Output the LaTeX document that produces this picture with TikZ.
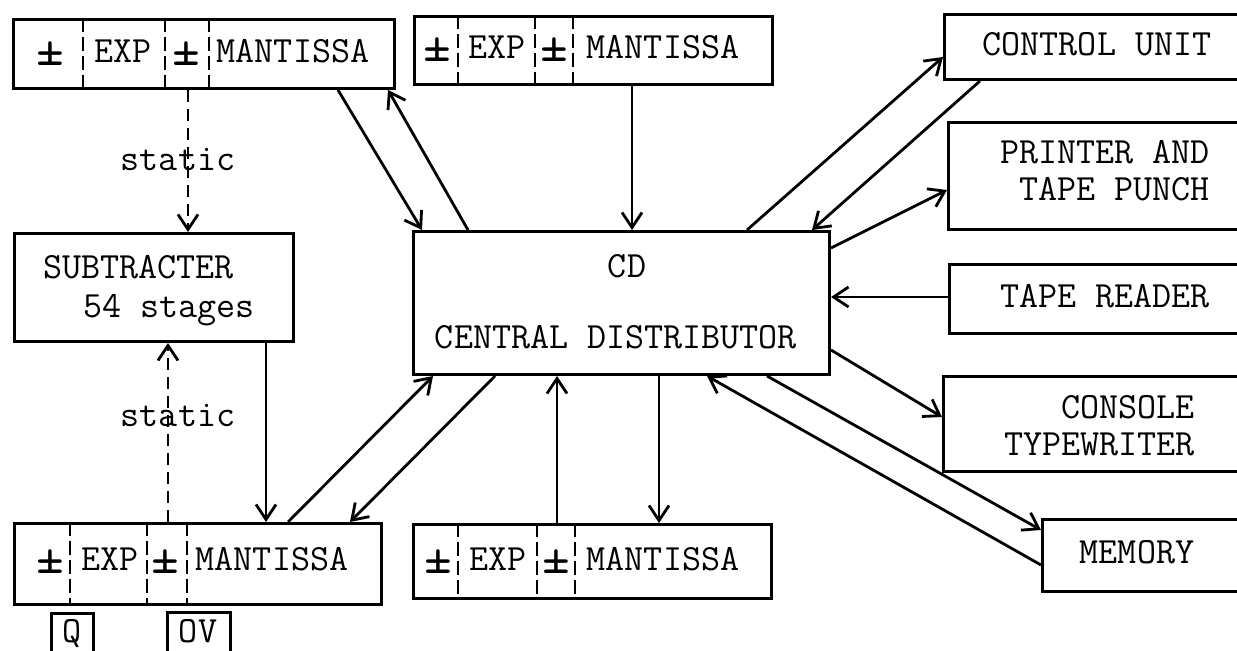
\documentclass[tikz,border=0pt]{standalone}
\usepackage{fontspec}
\usetikzlibrary{arrows.meta,calc}
\newcommand\tyfont{\fontsize{18.5}{22}\selectfont\ttfamily\addfontfeatures{FakeBold=2.2}}
\newcommand\pmsign{{\fontsize{27}{27}\selectfont ±}}
\begin{document}
\begin{tikzpicture}[x=0.5pt,y=-0.5pt,
  box/.style={draw,line width=1.5pt,inner sep=0pt,anchor=north west},
  lbl/.style={font=\tyfont,inner sep=0pt,text height=11pt,text depth=0pt},
  pmlbl/.style={font=\tyfont,inner sep=0pt},
  conn/.style={line width=1.4pt,-{Straight Barb[length=7.5pt,width=10pt]}},
  divider/.style={line width=1.1pt,dash pattern=on 7pt off 2.5pt},
  sta/.style={conn,dash pattern=on 6pt off 3.5pt}]
\useasboundingbox (0,0) rectangle (1237,651);
\fill[white] (0,0) rectangle (1237,651);
\clip (0,0) rectangle (1237,651);

% registers
\node[box,minimum width=190.5pt,minimum height=34.5pt] (R1) at (12,18) {};
\node[box,minimum width=179pt,minimum height=34pt] (R2) at (413,15) {};
\node[box,minimum width=183.5pt,minimum height=40.5pt] (R3) at (13,522) {};
\node[box,minimum width=179pt,minimum height=37pt] (R4) at (412,523) {};
\draw[divider] (83,18) -- (83,87) (165,18) -- (165,87) (209,18) -- (209,87);
\draw[divider] (458,15) -- (458,83) (535,15) -- (535,83) (573,15) -- (573,83);
\draw[divider] (70,522) -- (70,603) (147,522) -- (147,603) (187,522) -- (187,603);
\draw[divider] (458,523) -- (458,597) (537,523) -- (537,597) (575,523) -- (575,597);
\node[pmlbl] (r1a) at (50,54) {\pmsign};
\node[lbl] (r1b) at (123,52) {EXP};
\node[pmlbl] (r1c) at (186,54) {\pmsign};
\node[lbl] (r1d) at (293,52) {MANTISSA};
\node[pmlbl] (r2a) at (437,50) {\pmsign};
\node[lbl] (r2b) at (497,48) {EXP};
\node[pmlbl] (r2c) at (554,50) {\pmsign};
\node[lbl] (r2d) at (663,48) {MANTISSA};
\node[pmlbl] (r3a) at (50,562) {\pmsign};
\node[lbl] (r3b) at (110,560) {EXP};
\node[pmlbl] (r3c) at (165,562) {\pmsign};
\node[lbl] (r3d) at (272,560) {MANTISSA};
\node[pmlbl] (r4a) at (438,562) {\pmsign};
\node[lbl] (r4b) at (498,560) {EXP};
\node[pmlbl] (r4c) at (556,562) {\pmsign};
\node[lbl] (r4d) at (663,560) {MANTISSA};

% Q and OV
\node[box,minimum width=21pt,minimum height=30pt] (Q) at (50,612) {};
\node[box,minimum width=31.5pt,minimum height=30pt] (OV) at (166,611) {};
\node[lbl] (qt) at (72,632) {Q};
\node[lbl] (ovt) at (198,632) {OV};

% subtracter
\node[box,minimum width=139.5pt,minimum height=54pt] (Sub) at (13,232) {};
\node[lbl,anchor=west] (s1) at (43,268) {SUBTRACTER};
\node[lbl,anchor=west] (s2) at (83,307) {54 stages};
\node[lbl] (st1) at (178,160) {static};
\node[lbl] (st2) at (178,416) {static};

% central distributor
\node[box,minimum width=208pt,minimum height=71.5pt] (CD) at (412,230) {};
\node[lbl] (cd1) at (627,267) {CD};
\node[lbl] (cd2) at (616,338) {CENTRAL DISTRIBUTOR};

% right column
\node[box,minimum width=160pt,minimum height=32.5pt] (Ctrl) at (943,13) {};
\node[lbl] (ctrlt) at (1097,45) {CONTROL UNIT};
\node[box,minimum width=160pt,minimum height=53.5pt] (Prn) at (947,121) {};
\node[lbl,anchor=east] (p1) at (1210,153) {PRINTER AND};
\node[lbl,anchor=east] (p2) at (1210,190) {TAPE PUNCH};
\node[box,minimum width=160pt,minimum height=34.5pt] (TR) at (948,263) {};
\node[lbl,anchor=east] (trt) at (1210,297) {TAPE READER};
\node[box,minimum width=160pt,minimum height=47.5pt] (Con) at (942,375) {};
\node[lbl,anchor=east] (c1) at (1195,408) {CONSOLE};
\node[lbl,anchor=east] (c2) at (1195,445) {TYPEWRITER};
\node[box,minimum width=120pt,minimum height=36pt] (Mem) at (1041,518) {};
\node[lbl] (memt) at (1137,553) {MEMORY};

% connectors
\draw[conn] ($(R1.south west)+(326,0)$) -- ($(CD.north west)+(10,0)$);
\draw[conn] ($(CD.north west)+(56,0)$) -- ($(R1.south west)+(376,0)$);
\draw[conn] ($(R2.south west)+(219,0)$) -- ($(CD.north west)+(220,0)$);
\draw[conn] ($(CD.north west)+(335,0)$) -- ($(Ctrl.north west)+(0,44)$);
\draw[conn] ($(Ctrl.south west)+(37,0)$) -- ($(CD.north west)+(400,0)$);
\draw[conn] ($(CD.north east)+(0,18)$) -- ($(Prn.north west)+(0,69)$);
\draw[conn] ($(TR.north west)+(0,34)$) -- ($(CD.north east)+(0,67)$);
\draw[conn] ($(CD.north east)+(0,120)$) -- ($(Con.north west)+(0,42)$);
\draw[conn] ($(CD.south west)+(355,0)$) -- ($(Mem.north west)+(0,12)$);
\draw[conn] ($(Mem.north west)+(0,47)$) -- ($(CD.south west)+(295,0)$);
\draw[conn] ($(CD.south west)+(247,0)$) -- ($(R4.north west)+(247,0)$);
\draw[conn] ($(R4.north west)+(145,0)$) -- ($(CD.south west)+(145,0)$);
\draw[conn] ($(R3.north west)+(275,0)$) -- ($(CD.south west)+(21,0)$);
\draw[conn] ($(CD.south west)+(83,0)$) -- ($(R3.north west)+(337,0)$);
\draw[conn] ($(Sub.south west)+(253,0)$) -- ($(R3.north west)+(253,0)$);
\draw[sta] ($(R1.south west)+(176,0)$) -- ($(Sub.north west)+(175,0)$);
\draw[sta] ($(R3.north west)+(155,0)$) -- ($(Sub.south west)+(155,0)$);
\end{tikzpicture}
\end{document}
